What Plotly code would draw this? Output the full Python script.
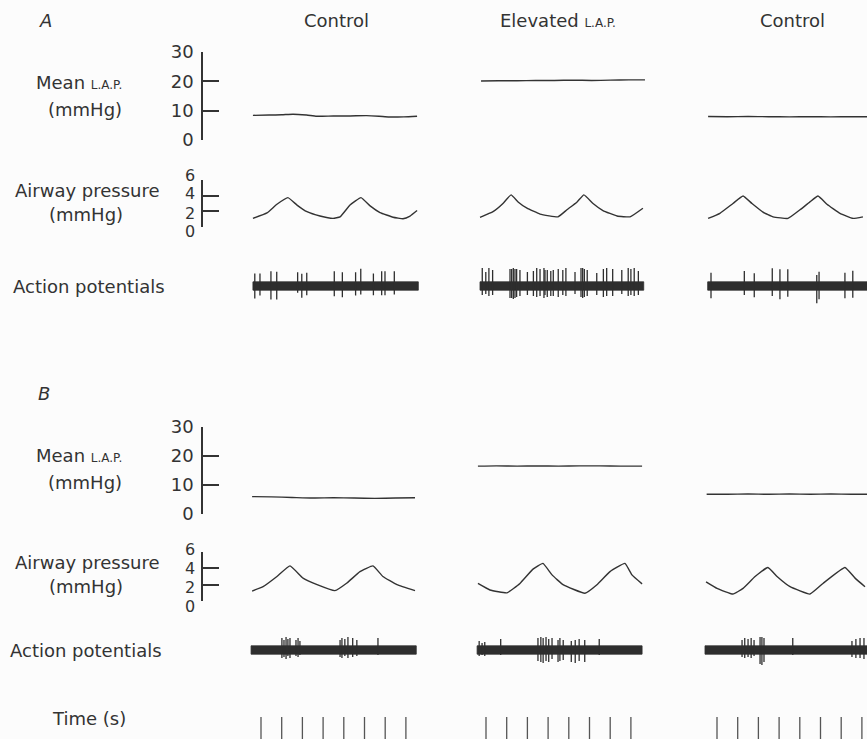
import plotly.graph_objects as go

W, H = 867, 739
INK = "#333333"
FONT = "DejaVu Sans"

# ---------------- data ----------------
TIME_TICKS_S = [0, 1, 2, 3, 4, 5, 6, 7]
COLUMN_TITLES = ["Control", "Elevated <span style='font-size:12px'>L.A.P.</span>", "Control"]
LAP_TICKS = [0, 10, 20, 30]
AIRWAY_TICKS = [0, 2, 4, 6]

# Panel A - mean left atrial pressure (mmHg) vs time (s)
A_LAP1_T = [-0.39, 0.4, 1.0, 1.55, 2.2, 2.7, 3.5, 4.3, 5.1, 5.7, 6.2, 6.9, 7.54]
A_LAP1_V = [8.4, 8.5, 8.6, 8.8, 8.5, 8.1, 8.2, 8.2, 8.3, 8.1, 7.85, 7.9, 8.1]
A_LAP2_T = [-0.24, 0.6, 1.5, 2.4, 3.3, 4.2, 5.1, 6.0, 6.9, 7.68]
A_LAP2_V = [20.1, 20.2, 20.2, 20.3, 20.3, 20.4, 20.3, 20.4, 20.5, 20.5]
A_LAP3_T = [-0.43, 0.5, 1.5, 2.5, 3.5, 4.5, 5.5, 6.5, 7.3]
A_LAP3_V = [8.0, 7.95, 8.0, 7.95, 7.9, 7.95, 7.9, 7.95, 7.9]

# Panel A - airway pressure (mmHg)
A_AW1_T = [-0.39, 0.29, 0.77, 1.30, 1.74, 2.22, 2.85, 3.48, 3.82, 4.30, 4.83, 5.27, 5.75, 6.38, 6.86, 7.2, 7.54]
A_AW1_V = [1.1, 1.8, 2.9, 3.75, 2.8, 1.95, 1.4, 1.1, 1.3, 2.8, 3.75, 2.7, 1.85, 1.25, 1.06, 1.4, 2.1]
A_AW2_T = [-0.29, 0.34, 0.82, 1.21, 1.55, 1.98, 2.61, 3.48, 3.91, 4.40, 4.73, 5.17, 5.65, 6.33, 6.96, 7.58]
A_AW2_V = [1.24, 1.95, 3.0, 4.1, 3.2, 2.4, 1.65, 1.3, 2.2, 3.2, 4.1, 3.0, 2.1, 1.4, 1.3, 2.4]
A_AW3_T = [-0.43, 0.14, 0.77, 1.26, 1.69, 2.22, 2.71, 3.43, 4.01, 4.49, 4.88, 5.31, 5.94, 6.57, 7.05]
A_AW3_V = [1.1, 1.75, 3.0, 3.95, 3.0, 1.9, 1.3, 1.1, 2.2, 3.2, 3.95, 2.9, 1.75, 1.1, 1.3]

# Panel A - action potentials: recording span (s), spike times (s), peak up / down (arb. units)
A_AP1_SPAN = [-0.39, 7.6]
A_AP1_T = [-0.30, -0.05, 0.48, 0.76, 1.77, 1.97, 2.21, 3.54, 3.93, 4.57, 4.82, 5.43, 5.83, 5.99, 6.44]
A_AP1_UP = [12.5, 12.5, 14.8, 14.2, 13.8, 12.2, 13.2, 14.8, 13.8, 13.8, 17.2, 12.5, 14.8, 14.8, 14.8]
A_AP1_DN = [-12.5, -9.5, -13.5, -13.5, -6.8, -11.8, -9.2, -10.2, -11.2, -9.5, -8.5, -9.2, -9.2, -9.2, -8.5]
A_AP2_SPAN = [-0.29, 7.62]
A_AP2_T = [-0.18, -0.01, 0.14, 0.32, 1.16, 1.24, 1.32, 1.40, 1.48, 1.64, 2.00, 2.29, 2.45, 2.61,
           2.80, 2.85, 2.96, 3.13, 3.25, 3.49, 3.71, 3.86, 4.30, 4.59, 4.67, 4.75, 4.89, 5.35,
           5.67, 5.83, 6.12, 6.56, 6.87, 7.00, 7.16, 7.36]
A_AP2_UP = [18, 14, 18, 16, 17, 17, 18, 17, 17, 16, 14, 15, 18, 17,
            18, 16, 16, 15, 16, 17, 16, 18, 14, 18, 18, 17, 16, 13,
            17, 18, 17, 16, 18, 17, 18, 15]
A_AP2_DN = [-9, -8, -10, -9, -12, -12, -13, -12, -11, -10, -9, -10, -11, -10,
            -12, -9, -11, -10, -10, -11, -9, -10, -8, -11, -12, -11, -10, -9,
            -11, -10, -10, -8, -10, -9, -10, -9]
A_AP3_SPAN = [-0.45, 7.4]
A_AP3_T = [-0.29, 1.32, 1.80, 2.67, 3.04, 3.42, 4.82, 4.93, 6.18, 6.56]
A_AP3_UP = [13.3, 15, 12.7, 17.7, 16.7, 16.7, 11, 14.3, 13.3, 15.3]
A_AP3_DN = [-12.3, -9, -11.3, -10, -13.3, -10.7, -17.3, -13.3, -12.3, -11.7]

# Panel B - mean left atrial pressure (mmHg)
B_LAP1_T = [-0.43, 0.5, 1.5, 2.5, 3.5, 4.5, 5.5, 6.5, 7.44]
B_LAP1_V = [6.0, 5.9, 5.7, 5.5, 5.6, 5.5, 5.4, 5.5, 5.6]
B_LAP2_T = [-0.39, 0.5, 1.5, 2.5, 3.5, 4.5, 5.5, 6.5, 7.54]
B_LAP2_V = [16.5, 16.6, 16.5, 16.6, 16.5, 16.6, 16.6, 16.5, 16.5]
B_LAP3_T = [-0.5, 0.5, 1.5, 2.5, 3.5, 4.5, 5.5, 6.5, 7.3]
B_LAP3_V = [6.8, 6.8, 6.9, 6.8, 6.9, 6.8, 6.9, 6.8, 6.8]

# Panel B - airway pressure (mmHg)
B_AW1_T = [-0.43, 0.10, 0.77, 1.40, 2.03, 2.71, 3.57, 4.15, 4.78, 5.41, 5.89, 6.57, 7.44]
B_AW1_V = [1.22, 1.75, 3.0, 4.3, 2.8, 2.0, 1.27, 2.2, 3.6, 4.3, 3.0, 2.0, 1.27]
B_AW2_T = [-0.39, 0.19, 1.01, 1.64, 2.27, 2.75, 3.19, 3.72, 4.78, 5.36, 5.99, 6.71, 7.05, 7.54]
B_AW2_V = [2.15, 1.35, 1.0, 2.15, 3.9, 4.6, 3.2, 2.0, 0.95, 2.0, 3.6, 4.6, 3.2, 2.1]
B_AW3_T = [-0.53, 0.0, 0.77, 1.26, 1.84, 2.46, 2.90, 3.53, 4.49, 5.12, 6.18, 6.67, 7.15]
B_AW3_V = [2.35, 1.55, 0.85, 1.55, 3.0, 4.1, 3.0, 1.75, 0.85, 2.15, 4.1, 2.8, 1.75]

# Panel B - action potentials
B_AP1_SPAN = [-0.48, 7.5]
B_AP1_T = [1.01, 1.11, 1.21, 1.30, 1.40, 1.69, 1.79, 1.88, 3.82, 3.91, 4.05, 4.20, 4.43, 4.63, 5.65]
B_AP1_UP = [12, 10, 13, 11, 12, 10, 12, 9, 10, 12, 11, 13, 12, 10, 12]
B_AP1_DN = [-8, -7, -9, -6, -8, -6, -7, -5, -7, -8, -6, -8, -7, -6, -5]
B_AP2_SPAN = [-0.43, 7.54]
B_AP2_T = [-0.33, -0.19, -0.06, 0.71, 2.51, 2.65, 2.76, 2.90, 3.03, 3.19, 3.48, 3.57, 3.73, 4.12, 4.31, 4.50, 4.77, 5.47]
B_AP2_UP = [9, 7, 8, 11, 12, 13, 12, 13, 11, 12, 10, 12, 10, 9, 10, 11, 10, 11]
B_AP2_DN = [-6, -5, -6, -5, -11, -12, -13, -11, -12, -9, -12, -11, -10, -12, -13, -11, -12, -5]
B_AP3_SPAN = [-0.58, 7.4]
B_AP3_T = [1.21, 1.34, 1.50, 1.65, 1.79, 2.08, 2.17, 2.27, 3.66, 6.52, 6.71, 6.91, 7.10]
B_AP3_UP = [10, 12, 11, 12, 10, 13, 13, 12, 12, 9, 11, 12, 12]
B_AP3_DN = [-7, -8, -7, -8, -6, -14, -15, -12, -5, -7, -8, -8, -9]

AP_BAND_HALF = 4.2

# ---------------- layout helpers ----------------
PX_PER_S = 20.7
T0_PX = [261, 486, 717]          # pixel position of t = 0 in each column


def fx(px):
    return px / W


def fy(py):
    return (H - py) / H


fig = go.Figure()

xaxes = {}
for i, t0 in enumerate(T0_PX):
    left = t0 - PX_PER_S
    right = min(W, left + 9.6 * PX_PER_S)
    rng = [-1, -1 + (right - left) / PX_PER_S]
    name = "xaxis" if i == 0 else f"xaxis{i + 1}"
    xaxes[name] = dict(domain=[fx(left), fx(right)], range=rng, visible=False,
                       fixedrange=True, automargin=False)


def scale_axis(domain_px, rng, ticks, labels=True):
    return dict(
        domain=[fy(domain_px[0]), fy(domain_px[1])], range=rng, anchor="free",
        position=fx(202), side="left", showgrid=False, zeroline=False,
        showline=True, linecolor=INK, linewidth=1.6, ticks="inside", ticklen=16,
        tickwidth=1.6, tickcolor=INK, tickvals=ticks, ticktext=[str(t) for t in ticks],
        showticklabels=labels, automargin=False,
        tickfont=dict(family=FONT, size=18, color=INK), ticklabelstandoff=4, fixedrange=True,
    )


def hidden_axis(domain_px, rng):
    return dict(domain=[fy(domain_px[0]), fy(domain_px[1])], range=rng, visible=False,
                anchor="free", position=0, fixedrange=True, automargin=False)


yaxes = {
    "yaxis": scale_axis([140, 52], [0, 30], LAP_TICKS),              # A LAP
    "yaxis2": scale_axis([227, 180], [0, 6], AIRWAY_TICKS, False),   # A airway
    "yaxis3": hidden_axis([306, 266], [-20, 20]),                    # A APs (1 unit ~ 1 px)
    "yaxis4": scale_axis([514, 427], [0, 30], LAP_TICKS),            # B LAP
    "yaxis5": scale_axis([601, 552], [0, 6], AIRWAY_TICKS, False),   # B airway
    "yaxis6": hidden_axis([670, 630], [-20, 20]),                    # B APs
    "yaxis7": hidden_axis([739, 717], [0, 1]),                       # time marks
}

XREF = ["x", "x2", "x3"]


def line(t, v, xr, yr, width=1.4, smooth=None):
    ln = dict(color=INK, width=width)
    if smooth:
        ln.update(shape="spline", smoothing=smooth)
    fig.add_trace(go.Scatter(x=t, y=v, xaxis=xr, yaxis=yr, mode="lines",
                             line=ln, hoverinfo="skip", showlegend=False))


def ap(span, times, up, dn, xr, yr):
    fig.add_trace(go.Scatter(x=[span[0], span[1], span[1], span[0], span[0]],
                             y=[-AP_BAND_HALF, -AP_BAND_HALF, AP_BAND_HALF, AP_BAND_HALF, -AP_BAND_HALF],
                             xaxis=xr, yaxis=yr, mode="lines", fill="toself",
                             fillcolor="#2e2e2e", line=dict(color="#2e2e2e", width=0.8),
                             hoverinfo="skip", showlegend=False))
    xs, ys = [], []
    for t, u, d in zip(times, up, dn):
        xs += [t, t, None]
        ys += [d, u, None]
    fig.add_trace(go.Scatter(x=xs, y=ys, xaxis=xr, yaxis=yr, mode="lines",
                             line=dict(color="#2e2e2e", width=1.3), hoverinfo="skip",
                             showlegend=False))


# Panel A
line(A_LAP1_T, A_LAP1_V, "x", "y", smooth=0.6)
line(A_LAP2_T, A_LAP2_V, "x2", "y", smooth=0.6)
line(A_LAP3_T, A_LAP3_V, "x3", "y", smooth=0.6)
line(A_AW1_T, A_AW1_V, "x", "y2", smooth=0.35)
line(A_AW2_T, A_AW2_V, "x2", "y2", smooth=0.35)
line(A_AW3_T, A_AW3_V, "x3", "y2", smooth=0.35)
ap(A_AP1_SPAN, A_AP1_T, A_AP1_UP, A_AP1_DN, "x", "y3")
ap(A_AP2_SPAN, A_AP2_T, A_AP2_UP, A_AP2_DN, "x2", "y3")
ap(A_AP3_SPAN, A_AP3_T, A_AP3_UP, A_AP3_DN, "x3", "y3")

# Panel B
line(B_LAP1_T, B_LAP1_V, "x", "y4", smooth=0.6)
line(B_LAP2_T, B_LAP2_V, "x2", "y4", smooth=0.6)
line(B_LAP3_T, B_LAP3_V, "x3", "y4", smooth=0.6)
line(B_AW1_T, B_AW1_V, "x", "y5", smooth=0.35)
line(B_AW2_T, B_AW2_V, "x2", "y5", smooth=0.35)
line(B_AW3_T, B_AW3_V, "x3", "y5", smooth=0.35)
ap(B_AP1_SPAN, B_AP1_T, B_AP1_UP, B_AP1_DN, "x", "y6")
ap(B_AP2_SPAN, B_AP2_T, B_AP2_UP, B_AP2_DN, "x2", "y6")
ap(B_AP3_SPAN, B_AP3_T, B_AP3_UP, B_AP3_DN, "x3", "y6")

# time marks (1 s)
for xr in XREF:
    xs, ys = [], []
    for t in TIME_TICKS_S:
        xs += [t, t, None]
        ys += [0, 1, None]
    fig.add_trace(go.Scatter(x=xs, y=ys, xaxis=xr, yaxis="y7", mode="lines",
                             line=dict(color="#555555", width=1.3), hoverinfo="skip",
                             showlegend=False))

# ---------------- text ----------------
ann = []


def text(s, xpx, ypx, size=18, italic=False, xanchor="center"):
    if italic:
        s = f"<i>{s}</i>"
    ann.append(dict(text=s, x=fx(xpx), y=fy(ypx), xref="paper", yref="paper",
                    xanchor=xanchor, yanchor="middle", showarrow=False,
                    font=dict(family=FONT, size=size, color=INK)))


SMALL = "<span style='font-size:12px'>L.A.P.</span>"
text("A", 45, 20, italic=True)
text("B", 44, 393, italic=True)
text(COLUMN_TITLES[0], 336, 20)
text(COLUMN_TITLES[1], 558, 20)
text(COLUMN_TITLES[2], 792, 20)

for dy in (0, 372):
    text(f"Mean {SMALL}", 79, 83 + dy)
    text("(mmHg)", 85, 110 + dy)
    text("Airway pressure", 87, 190 + dy)
    text("(mmHg)", 86, 214 + dy)
# stacked airway scale labels (spread slightly wider than the ticks, as in the original)
for top in (175, 549):
    for k, v in enumerate(reversed(AIRWAY_TICKS)):
        text(str(v), 197, top + 19 * k, size=16, xanchor="right")
text("Action potentials", 89, 286)
text("Action potentials", 86, 650)
text("Time (s)", 89, 718)

fig.update_layout(
    width=W, height=H, margin=dict(l=0, r=0, t=0, b=0, pad=0, autoexpand=False),
    paper_bgcolor="#fcfcfc", plot_bgcolor="rgba(0,0,0,0)",
    showlegend=False, annotations=ann, **xaxes, **yaxes,
)

PAGE_FIX = (
    "var st=document.createElement('style');"
    "st.innerHTML='html,body{margin:0;padding:0;overflow:hidden;width:%dpx;height:%dpx;}"
    "body>div{margin:0;padding:0;width:%dpx;height:%dpx;overflow:hidden;line-height:0;font-size:0;}';"
    "document.head.appendChild(st);" % (W, H, W, H)
)
fig.write_html("out.html", config={"displayModeBar": False}, post_script=PAGE_FIX)
